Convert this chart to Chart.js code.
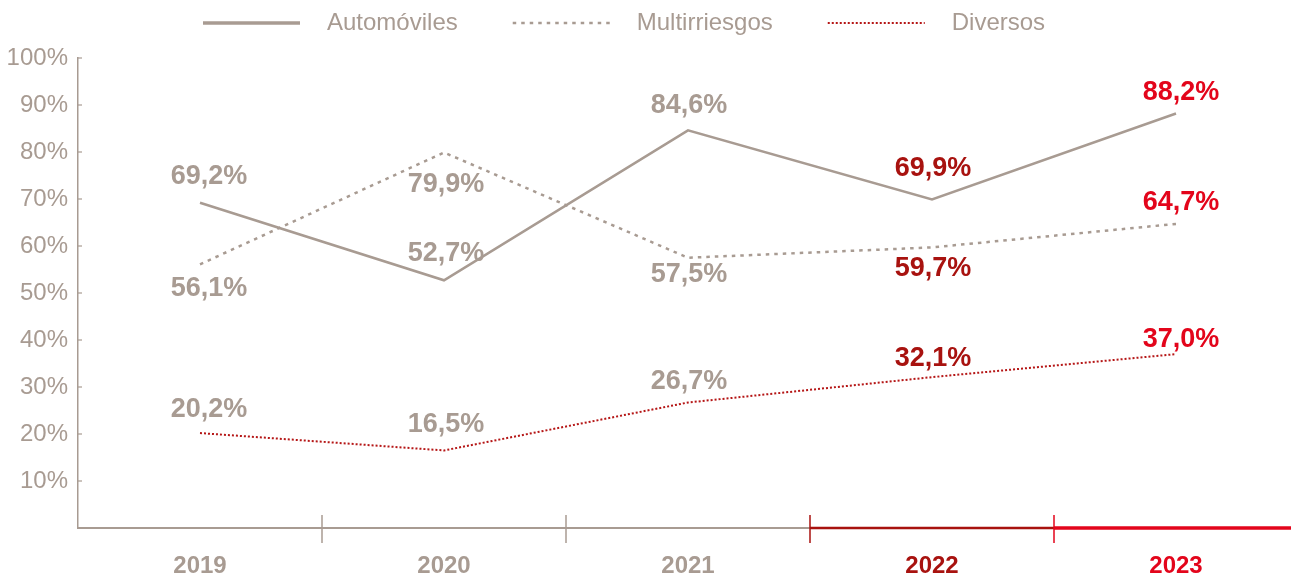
<!DOCTYPE html>
<html>
<head>
<meta charset="utf-8">
<script src="https://cdn.jsdelivr.net/npm/chart.js@4.4.1/dist/chart.umd.min.js"></script>
<style>
  html, body { margin: 0; padding: 0; background: #ffffff; overflow: hidden; }
  #wrap { width: 1298px; height: 576px; position: relative; }
</style>
</head>
<body>
<div id="wrap"><canvas id="c"></canvas></div>
<script>
// ---- data ----
const categories = ['2019', '2020', '2021', '2022', '2023'];
const automoviles = [69.2, 52.7, 84.6, 69.9, 88.2];
const multirriesgos = [56.1, 79.9, 57.5, 59.7, 64.7];
const diversos = [20.2, 16.5, 26.7, 32.1, 37.0];
const seriesNames = ['Automóviles', 'Multirriesgos', 'Diversos'];
const yTickValues = [10, 20, 30, 40, 50, 60, 70, 80, 90, 100];

// ---- styles ----
const GRAY = '#a89b92';
const DARK = '#a8120f';
const RED = '#e3051b';
const DIV_LINE = '#b51616';
const yearColors = [GRAY, GRAY, GRAY, DARK, RED];
const axisWidths = [2, 2, 2, 2.5, 3.5];
const FONT = '"Liberation Sans", Arial, Helvetica, sans-serif';
// label vertical offsets (px) per point, style only
const labelDy = [
  [-26, -27, -25, -31, -21],
  [24, 32, 17, 21, -21],
  [-24, -26, -21, -19, -15]
];
const labelDx = [9, 2, 1, 1, 5];

const fmt = v => v.toFixed(1).replace('.', ',') + '%';

const labelsPlugin = {
  id: 'valueLabels',
  afterDatasetsDraw(chart) {
    const ctx = chart.ctx;
    ctx.save();
    ctx.font = 'bold 27px ' + FONT;
    ctx.textAlign = 'center';
    ctx.textBaseline = 'middle';
    chart.data.datasets.forEach((ds, di) => {
      const meta = chart.getDatasetMeta(di);
      meta.data.forEach((pt, i) => {
        ctx.fillStyle = yearColors[i];
        ctx.fillText(fmt(ds.data[i]), pt.x + labelDx[i], pt.y + labelDy[di][i]);
      });
    });
    ctx.restore();
  }
};

const axisPlugin = {
  id: 'customAxes',
  afterDraw(chart) {
    const ctx = chart.ctx;
    const xs = chart.scales.x;
    const ys = chart.scales.y;
    const bottom = chart.chartArea.bottom;
    ctx.save();
    // x-axis segments
    for (let i = 0; i < categories.length; i++) {
      const l = xs.getPixelForValue(i - 0.5);
      const r = xs.getPixelForValue(i + 0.5);
      ctx.strokeStyle = yearColors[i];
      ctx.lineWidth = axisWidths[i];
      ctx.beginPath();
      ctx.moveTo(l, bottom);
      ctx.lineTo(r, bottom);
      ctx.stroke();
      if (i > 0) {
        ctx.lineWidth = 1.5;
        ctx.beginPath();
        ctx.moveTo(l, bottom - 13);
        ctx.lineTo(l, bottom + 15);
        ctx.stroke();
      }
    }
    // y small ticks
    ctx.strokeStyle = GRAY;
    ctx.lineWidth = 1.2;
    const ax = chart.chartArea.left;
    yTickValues.forEach(v => {
      const y = ys.getPixelForValue(v);
      ctx.beginPath();
      ctx.moveTo(ax, y);
      ctx.lineTo(ax + 4, y);
      ctx.stroke();
    });
    // legend
    ctx.font = '24px ' + FONT;
    ctx.textBaseline = 'middle';
    ctx.textAlign = 'left';
    let x = 203;
    const ly = 23;
    chart.data.datasets.forEach(ds => {
      ctx.strokeStyle = ds.borderColor;
      ctx.lineWidth = ds.borderWidth + (ds.label === seriesNames[0] ? 1 : 0);
      ctx.setLineDash(ds.borderDash || []);
      ctx.beginPath();
      ctx.moveTo(x, ly);
      ctx.lineTo(x + 97, ly);
      ctx.stroke();
      ctx.setLineDash([]);
      ctx.fillStyle = GRAY;
      ctx.fillText(ds.label, x + 124, ly);
      x += 124 + ctx.measureText(ds.label).width + 55;
    });
    ctx.restore();
  }
};

new Chart(document.getElementById('c'), {
  type: 'line',
  data: {
    labels: categories,
    datasets: [
      { label: seriesNames[0], data: automoviles, borderColor: GRAY, borderWidth: 2.5, pointRadius: 0, tension: 0 },
      { label: seriesNames[1], data: multirriesgos, borderColor: GRAY, borderWidth: 2.5, borderDash: [3.5, 5], pointRadius: 0, tension: 0 },
      { label: seriesNames[2], data: diversos, borderColor: DIV_LINE, borderWidth: 2, borderDash: [2, 2], pointRadius: 0, tension: 0 }
    ]
  },
  options: {
    responsive: true,
    maintainAspectRatio: false,
    animation: false,
    layout: { padding: { top: 58, right: 0, left: 0, bottom: 0 } },
    plugins: { legend: { display: false }, tooltip: { enabled: false } },
    scales: {
      x: {
        type: 'category',
        offset: true,
        grid: { display: false },
        border: { display: false },
        ticks: {
          padding: 16,
          font: { family: FONT, size: 24, weight: 'bold' },
          color: ctx => yearColors[ctx.index]
        },
        afterFit: s => { s.height = 48; }
      },
      y: {
        min: 0,
        max: 100,
        grid: { display: false },
        border: { display: true, color: GRAY, width: 1.5 },
        ticks: {
          stepSize: 10,
          padding: 2,
          color: GRAY,
          font: { family: FONT, size: 24 },
          callback: v => (v === 0 ? '' : v + '%')
        },
        afterFit: s => { s.width = 78; }
      }
    }
  },
  plugins: [labelsPlugin, axisPlugin]
});
</script>
</body>
</html>
